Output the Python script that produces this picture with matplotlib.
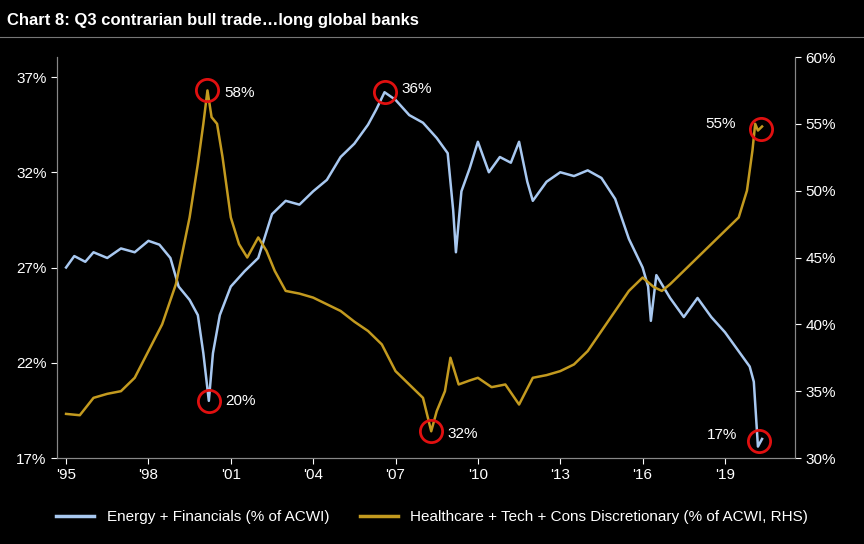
import numpy as np
import matplotlib.pyplot as plt

plt.rcParams['font.family'] = ['Liberation Sans', 'DejaVu Sans']

# Energy + Financials (% of ACWI), left axis
ef_year = [1995.0, 1995.3, 1995.7, 1996.0, 1996.5, 1997.0, 1997.5, 1998.0, 1998.4, 1998.8,
           1999.1, 1999.5, 1999.8, 2000.0, 2000.2, 2000.35, 2000.6, 2001.0, 2001.5, 2002.0,
           2002.5, 2003.0, 2003.5, 2004.0, 2004.5, 2005.0, 2005.5, 2006.0, 2006.3, 2006.6,
           2007.0, 2007.5, 2008.0, 2008.5, 2008.9, 2009.1, 2009.2, 2009.4, 2009.7, 2010.0,
           2010.4, 2010.8, 2011.2, 2011.5, 2011.8, 2012.0, 2012.5, 2013.0, 2013.5, 2014.0,
           2014.5, 2015.0, 2015.5, 2016.0, 2016.2, 2016.3, 2016.5, 2017.0, 2017.5, 2018.0,
           2018.5, 2019.0, 2019.5, 2019.9, 2020.05, 2020.2, 2020.35]
ef_val = [27.0, 27.6, 27.3, 27.8, 27.5, 28.0, 27.8, 28.4, 28.2, 27.5,
          26.0, 25.3, 24.5, 22.5, 20.0, 22.5, 24.5, 26.0, 26.8, 27.5,
          29.8, 30.5, 30.3, 31.0, 31.6, 32.8, 33.5, 34.5, 35.3, 36.2,
          35.8, 35.0, 34.6, 33.8, 33.0, 30.0, 27.8, 31.0, 32.2, 33.6,
          32.0, 32.8, 32.5, 33.6, 31.5, 30.5, 31.5, 32.0, 31.8, 32.1,
          31.7, 30.6, 28.5, 27.0, 26.0, 24.2, 26.6, 25.4, 24.4, 25.4,
          24.4, 23.6, 22.6, 21.8, 21.0, 17.6, 18.0]

# Healthcare + Tech + Cons Discretionary (% of ACWI, RHS)
ht_year = [1995.0, 1995.5, 1996.0, 1996.5, 1997.0, 1997.5, 1998.0, 1998.5, 1999.0, 1999.5,
           1999.8, 2000.0, 2000.15, 2000.3, 2000.5, 2000.7, 2001.0, 2001.3, 2001.6, 2002.0,
           2002.3, 2002.6, 2003.0, 2003.5, 2004.0, 2004.5, 2005.0, 2005.5, 2006.0, 2006.5,
           2007.0, 2007.5, 2008.0, 2008.3, 2008.5, 2008.8, 2009.0, 2009.3, 2009.7, 2010.0,
           2010.5, 2011.0, 2011.5, 2012.0, 2012.5, 2013.0, 2013.5, 2014.0, 2014.5, 2015.0,
           2015.5, 2016.0, 2016.4, 2016.7, 2017.0, 2017.5, 2018.0, 2018.5, 2019.0, 2019.5,
           2019.8, 2020.0, 2020.1, 2020.2, 2020.35]
ht_val = [33.3, 33.2, 34.5, 34.8, 35.0, 36.0, 38.0, 40.0, 43.0, 48.0,
          52.0, 55.0, 57.5, 55.5, 55.0, 52.5, 48.0, 46.0, 45.0, 46.5,
          45.5, 44.0, 42.5, 42.3, 42.0, 41.5, 41.0, 40.2, 39.5, 38.5,
          36.5, 35.5, 34.5, 32.0, 33.5, 35.0, 37.5, 35.5, 35.8, 36.0,
          35.3, 35.5, 34.0, 36.0, 36.2, 36.5, 37.0, 38.0, 39.5, 41.0,
          42.5, 43.5, 42.8, 42.5, 43.0, 44.0, 45.0, 46.0, 47.0, 48.0,
          50.0, 53.0, 55.0, 54.5, 54.8]

tick_years = [1995, 1998, 2001, 2004, 2007, 2010, 2013, 2016, 2019]
tick_labels = ["'95", "'98", "'01", "'04", "'07", "'10", "'13", "'16", "'19"]

blue = '#a8c8f0'
gold = '#c39a1f'

fig = plt.figure(figsize=(8.64, 5.44), dpi=100, facecolor='black')
fig.text(0.008, 0.962, 'Chart 8: Q3 contrarian bull trade\u2026long global banks',
         color='white', fontsize=12, fontweight='bold', va='center')
fig.add_artist(plt.Line2D([0, 1], [0.932, 0.932], color='#777777', lw=0.8))

ax = fig.add_axes([57/864, 1-458/544, (795-57)/864, (458-57)/544])
ax.set_facecolor('black')
ax2 = ax.twinx()

ax.plot(ef_year, ef_val, color=blue, lw=1.8)
ax2.plot(ht_year, ht_val, color=gold, lw=1.8)

ax.set_xlim(1994.67, 2021.55)
ax.set_ylim(17, 38.05)
ax2.set_ylim(30, 60)
ax.set_yticks([17, 22, 27, 32, 37])
ax.set_yticklabels(['17%', '22%', '27%', '32%', '37%'])
ax2.set_yticks([30, 35, 40, 45, 50, 55, 60])
ax2.set_yticklabels([f'{v}%' for v in range(30, 61, 5)])
ax.set_xticks(tick_years)
ax.set_xticklabels(tick_labels)

for a in (ax, ax2):
    for s in a.spines.values():
        s.set_color('#888888')
    a.spines['top'].set_visible(False)
    a.tick_params(colors='white', labelsize=11, length=4)

# red circle annotations
def mark(a, x, y, txt, dx, dy):
    a.plot(x, y, 'o', ms=16, mfc='none', mec='#e01010', mew=2)
    a.annotate(txt, (x, y), xytext=(dx, dy), textcoords='offset points',
               color='white', fontsize=11, va='center')

mark(ax, 2000.2, 20.0, '20%', 12, 0)
mark(ax, 2006.6, 36.2, '36%', 12, 2)
mark(ax, 2020.25, 17.9, '17%', -38, 4)
mark(ax2, 2000.15, 57.5, '58%', 12, -2)
mark(ax2, 2008.3, 32.0, '32%', 12, -2)
mark(ax2, 2020.3, 54.6, '55%', -40, 4)

fig.legend(handles=[plt.Line2D([], [], color=blue, lw=2.5),
                    plt.Line2D([], [], color=gold, lw=2.5)],
           labels=['Energy + Financials (% of ACWI)',
                   'Healthcare + Tech + Cons Discretionary (% of ACWI, RHS)'],
           loc='center', bbox_to_anchor=(0.5, 1-517/544), ncol=2, frameon=False,
           labelcolor='white', fontsize=11, handlelength=2.5, columnspacing=2)

fig.savefig('out.png', facecolor='black')
